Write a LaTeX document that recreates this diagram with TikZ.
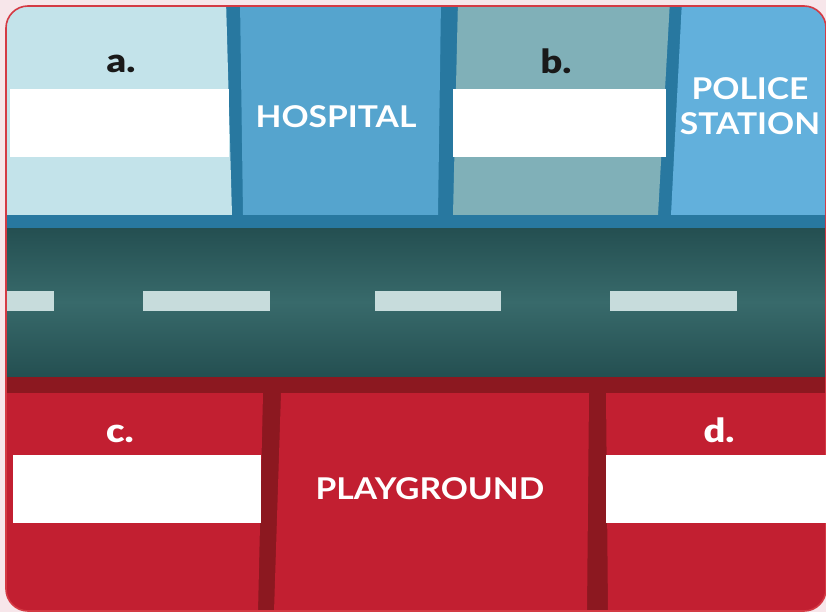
\documentclass[tikz,border=0pt]{standalone}
\usepackage{fontspec}
\setmainfont{Lato}
\newfontfamily\lbl[FakeStretch=1.15]{Lato Black}
\newfontfamily\ttl[FakeStretch=1.12]{Lato Bold}
\definecolor{bgpink}{HTML}{F7E6EA}
\definecolor{edgered}{HTML}{D43A44}
\definecolor{bldA}{HTML}{C3E3EA}
\definecolor{bldH}{HTML}{55A4CE}
\definecolor{bldB}{HTML}{80B0B8}
\definecolor{bldP}{HTML}{62B0DC}
\definecolor{divblue}{HTML}{2878A0}
\definecolor{roadtop}{HTML}{244F51}
\definecolor{roadmid}{HTML}{386A6B}
\definecolor{laneclr}{HTML}{C7DCDC}
\definecolor{darkred}{HTML}{8C1820}
\definecolor{mainred}{HTML}{C21F31}
\tikzset{
  blank/.style={fill=white, draw=none},
  labeltxt/.style={font=\lbl\fontsize{33}{33}\selectfont, inner sep=0pt, anchor=base},
  titletxt/.style={font=\ttl\fontsize{30}{35}\selectfont, text=white, inner sep=0pt, align=center},
}
\begin{document}
\begin{tikzpicture}[x=1pt,y=-1pt]
\useasboundingbox (0,0) rectangle (826,612);
\fill[bgpink] (0,0) rectangle (826,612);
\begin{scope}
\clip[rounded corners=22pt] (6,6) rectangle (826,611);
% top band
\fill[divblue] (0,0) rectangle (826,228);
\fill[bldA] (0,0) -- (226,0) -- (232,215) -- (0,215) -- cycle;
\fill[bldH] (240,0) -- (441,0) -- (438,215) -- (243,215) -- cycle;
\fill[bldB] (458,0) -- (670,0) -- (658,215) -- (453,215) -- cycle;
\fill[bldP] (682,0) -- (826,0) -- (826,215) -- (671,215) -- cycle;
% road
\shade[top color=roadtop, bottom color=roadmid] (0,228) rectangle (826,302);
\shade[top color=roadmid, bottom color=roadtop] (0,302) rectangle (826,377);
\fill[laneclr] (0,291) rectangle (54,311);
\fill[laneclr] (143,291) rectangle (270,311);
\fill[laneclr] (375,291) rectangle (501,311);
\fill[laneclr] (610,291) rectangle (737,311);
% bottom band
\fill[darkred] (0,377) rectangle (826,612);
\fill[mainred] (0,393) -- (263,393) -- (258,612) -- (0,612) -- cycle;
\fill[mainred] (281,393) -- (589,393) -- (587,612) -- (274,612) -- cycle;
\fill[mainred] (606,393) -- (826,393) -- (826,612) -- (608,612) -- cycle;
\end{scope}
\draw[edgered, line width=1.6pt, rounded corners=22pt] (6,6) rectangle (826,611);
% white boxes
\node[blank, minimum width=219pt, minimum height=68pt, anchor=north west, inner sep=0pt] (boxa) at (10,89) {};
\node[blank, minimum width=213pt, minimum height=68pt, anchor=north west, inner sep=0pt] (boxb) at (453,89) {};
\node[blank, minimum width=248pt, minimum height=68pt, anchor=north west, inner sep=0pt] (boxc) at (13,455) {};
\node[blank, minimum width=220pt, minimum height=68pt, anchor=north west, inner sep=0pt] (boxd) at (606,455) {};
% labels
\node[labeltxt, text=black!90] (la) at (121,73) {a.};
\node[labeltxt, text=black!90] (lb) at (556,74) {b.};
\node[labeltxt, text=white] (lc) at (120,442) {c.};
\node[labeltxt, text=white] (ld) at (719,442) {d.};
\node[titletxt] (hosp) at (336,117) {HOSPITAL};
\node[titletxt] (police) at (750,106) {POLICE\\STATION};
\node[titletxt] (play) at (430,489) {PLAYGROUND};
\end{tikzpicture}
\end{document}
